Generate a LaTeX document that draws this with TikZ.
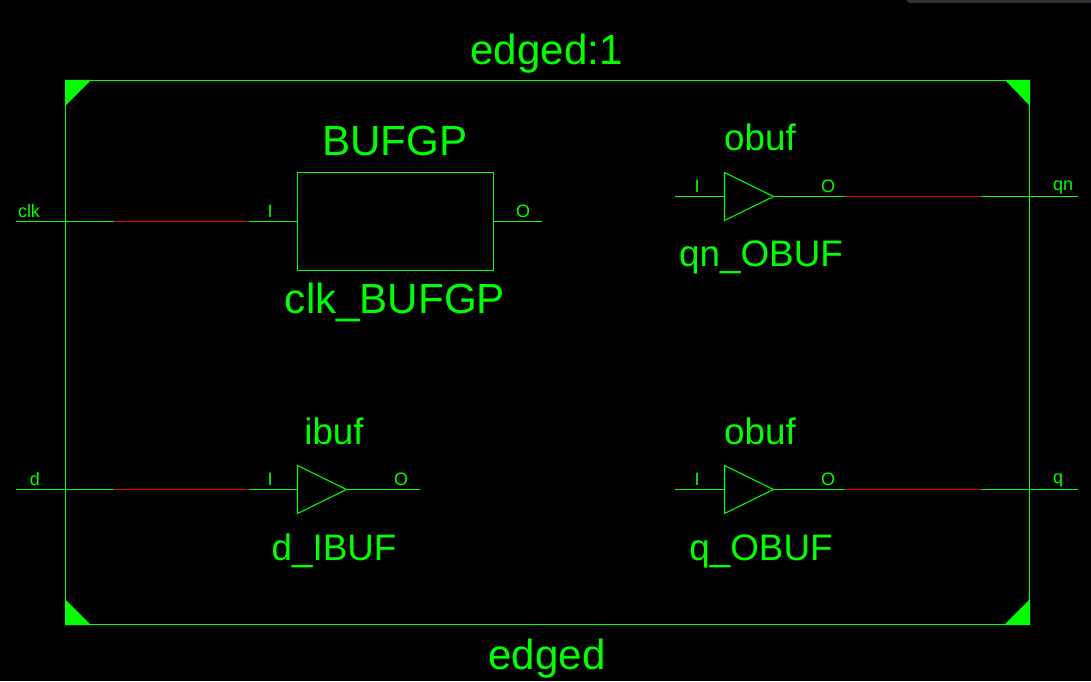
\documentclass[tikz,border=0pt]{standalone}
\usepackage{fontspec}
\setmainfont{Liberation Sans}
\tikzset{
  x=0.75pt,y=-0.75pt,
  wire/.style={draw=gr,line width=0.8pt},
  redwire/.style={draw=rd,line width=0.9pt},
  box/.style={draw=gr,line width=0.8pt},
  corner/.style={fill=gr,draw=none},
  big/.style={text=gr,inner sep=0pt,font=\fontsize{31.6}{32}\selectfont},
  mid/.style={text=gr,inner sep=0pt,font=\fontsize{27.6}{28}\selectfont},
  small/.style={text=gr,inner sep=0pt,font=\fontsize{13.5}{14}\selectfont},
}
\definecolor{gr}{RGB}{0,255,0}
\definecolor{rd}{RGB}{225,0,0}
\definecolor{bar}{RGB}{44,50,58}
\begin{document}
\begin{tikzpicture}
\useasboundingbox[fill=black] (0,0) rectangle (1091,681);
\fill[bar] (906,0) -- (1091,0) -- (1091,3) -- (909,3) -- cycle;
% frame
\draw[box] (65.5,80.5) rectangle (1029.5,624.5);
\fill[corner] (65,80) -- (91,80) -- (65,106) -- cycle;
\fill[corner] (1030,80) -- (1005,80) -- (1030,106) -- cycle;
\fill[corner] (65,625) -- (91,625) -- (65,599) -- cycle;
\fill[corner] (1030,625) -- (1004,625) -- (1030,599) -- cycle;
\node[big] (title) at (546.5,54) {edged:1};
\node[big] (name) at (547,659) {edged};
% clk
\coordinate (clkL) at (16,221.5);
\coordinate (clkA) at (114,221.5);
\coordinate (clkB) at (249,221.5);
\node[draw=gr,line width=0.8pt,minimum width=147pt,minimum height=73.5pt,inner sep=0pt] (bufg) at (395.5,221.5) {};
\draw[wire] (clkL) -- (clkA);
\draw[redwire] (clkA) -- (clkB);
\draw[wire] (clkB) -- (bufg.west);
\coordinate (bufO) at (542,221.5);
\draw[wire] (bufg.east) -- (bufO);
\node[small] (clkt) at (29,211.5) {clk};
\node[small] (clkI) at (270,211) {I};
\node[small] (clkO) at (523,211) {O};
\node[big] (bufgT) at (395,141) {BUFGP};
\node[big] (bufgN) at (395,302) {clk\_BUFGP};
% qn
\draw[box] (724.5,172.5) -- (773.5,196.5) -- (724.5,220.5) -- cycle;
\coordinate (qnI) at (675,196.5);
\coordinate (qnI2) at (724.5,196.5);
\coordinate (qnO) at (773.5,196.5);
\coordinate (qnA) at (845,196.5);
\coordinate (qnB) at (981,196.5);
\coordinate (qnR) at (1078,196.5);
\draw[wire] (qnI) -- (qnI2);
\draw[wire] (qnO) -- (qnA);
\draw[redwire] (qnA) -- (qnB);
\draw[wire] (qnB) -- (qnR);
\node[small] (qnIt) at (697,186) {I};
\node[small] (qnOt) at (828,186) {O};
\node[small] (qnt) at (1063,188) {qn};
\node[mid] (qnTy) at (760,137) {obuf};
\node[mid] (qnN) at (761,257) {qn\_OBUF};
% d
\draw[box] (297.5,465.5) -- (346.5,489.5) -- (297.5,513.5) -- cycle;
\coordinate (dL) at (16,489.5);
\coordinate (dA) at (114,489.5);
\coordinate (dB) at (249,489.5);
\coordinate (dI) at (297.5,489.5);
\coordinate (dO) at (346.5,489.5);
\coordinate (dR) at (420,489.5);
\draw[wire] (dL) -- (dA);
\draw[redwire] (dA) -- (dB);
\draw[wire] (dB) -- (dI);
\draw[wire] (dO) -- (dR);
\node[small] (dt) at (35,479) {d};
\node[small] (dIt) at (270,479) {I};
\node[small] (dOt) at (401,479) {O};
\node[mid] (dTy) at (334,431) {ibuf};
\node[mid] (dN) at (334,551) {d\_IBUF};
% q
\draw[box] (724.5,465.5) -- (773.5,489.5) -- (724.5,513.5) -- cycle;
\coordinate (qI) at (675,489.5);
\coordinate (qI2) at (724.5,489.5);
\coordinate (qO) at (773.5,489.5);
\coordinate (qA) at (845,489.5);
\coordinate (qB) at (981,489.5);
\coordinate (qR) at (1078,489.5);
\draw[wire] (qI) -- (qI2);
\draw[wire] (qO) -- (qA);
\draw[redwire] (qA) -- (qB);
\draw[wire] (qB) -- (qR);
\node[small] (qIt) at (697,479) {I};
\node[small] (qOt) at (828,479) {O};
\node[small] (qt) at (1058,481) {q};
\node[mid] (qTy) at (760,431) {obuf};
\node[mid] (qN) at (761,551) {q\_OBUF};
\end{tikzpicture}
\end{document}
